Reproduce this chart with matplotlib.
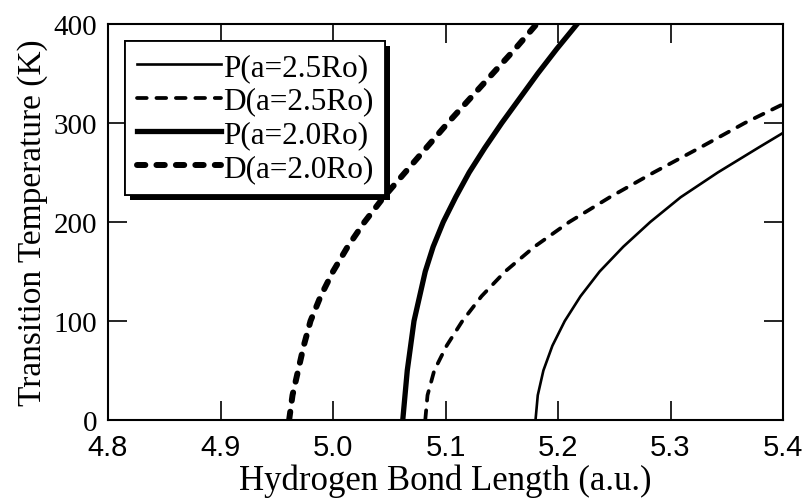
import matplotlib
matplotlib.use("Agg")
import matplotlib.pyplot as plt
import matplotlib.patheffects as pe

plt.rcParams['font.family'] = ['Liberation Serif', 'DejaVu Serif']
plt.rcParams['lines.scale_dashes'] = False

# transition temperature vs hydrogen bond length
p25_x = [5.180, 5.182, 5.187, 5.195, 5.206, 5.220, 5.237, 5.258, 5.282, 5.309, 5.342, 5.378, 5.400]
p25_t = [0, 25, 50, 75, 100, 125, 150, 175, 200, 225, 250, 275, 290]

d25_x = [5.082, 5.084, 5.090, 5.101, 5.115, 5.132, 5.153, 5.179, 5.210, 5.246, 5.285, 5.326, 5.366, 5.400]
d25_t = [0, 25, 50, 75, 100, 125, 150, 175, 200, 225, 250, 275, 300, 319]

p20_x = [5.062, 5.064, 5.066, 5.069, 5.072, 5.077, 5.082, 5.089, 5.098, 5.109, 5.121, 5.135,
         5.150, 5.166, 5.182, 5.199, 5.217]
p20_t = [0, 25, 50, 75, 100, 125, 150, 175, 200, 225, 250, 275, 300, 325, 350, 375, 400]

d20_x = [4.961, 4.964, 4.969, 4.974, 4.980, 4.989, 5.000, 5.013, 5.028, 5.045, 5.064, 5.083,
         5.102, 5.122, 5.142, 5.162, 5.181]
d20_t = [0, 25, 50, 75, 100, 125, 150, 175, 200, 225, 250, 275, 300, 325, 350, 375, 400]

x_ticks = [4.8, 4.9, 5.0, 5.1, 5.2, 5.3, 5.4]
y_ticks = [0, 100, 200, 300, 400]

fig = plt.figure(figsize=(8.09, 5.02), dpi=100)
ax = fig.add_axes([0.1335, 0.1614, 0.8344, 0.7888])

ax.plot(p25_x, p25_t, color='k', lw=1.9, label='P(a=2.5Ro)')
ax.plot(d25_x, d25_t, color='k', lw=2.7, dashes=(7, 7), dash_capstyle='round',
        label='D(a=2.5Ro)')
ax.plot(p20_x, p20_t, color='k', lw=3.8, label='P(a=2.0Ro)')
ax.plot(d20_x, d20_t, color='k', lw=4.3, dashes=(6, 8), dash_capstyle='round',
        label='D(a=2.0Ro)')

ax.set_xlim(4.8, 5.4)
ax.set_ylim(0, 400)
ax.set_xticks(x_ticks)
ax.set_yticks(y_ticks)
ax.set_xticklabels(['%.1f' % v for v in x_ticks], family='Liberation Sans', fontsize=21)
ax.set_yticklabels([str(v) for v in y_ticks], fontsize=21)
ax.tick_params(direction='in', length=14, width=1.2, top=True, right=True)
ax.tick_params(axis='x', pad=9.5)
ax.tick_params(axis='y', pad=8)
for s in ax.spines.values():
    s.set_linewidth(1.5)

ax.set_xlabel('Hydrogen Bond Length (a.u.)', fontsize=25, labelpad=2)
ax.set_ylabel('Transition Temperature (K)', fontsize=24, labelpad=4)

leg = ax.legend(loc='upper left', bbox_to_anchor=(0.025, 0.957), borderaxespad=0,
                fontsize=22.5, fancybox=False, handlelength=2.7, handletextpad=0.05,
                labelspacing=0.15, borderpad=0.38, framealpha=1)
frame = leg.get_frame()
frame.set_edgecolor('k')
frame.set_linewidth(1.3)
frame.set_path_effects([pe.withSimplePatchShadow(offset=(3.5, -3.5), shadow_rgbFace='k', alpha=1),
                        pe.Normal()])

fig.savefig('out.png', dpi=100)
